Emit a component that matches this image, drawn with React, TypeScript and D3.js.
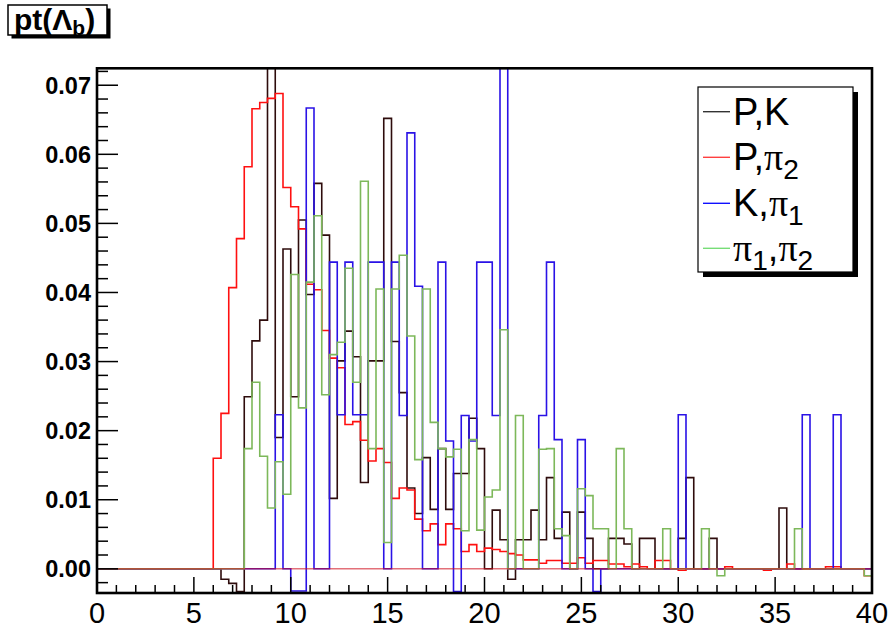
import React from 'react';
import * as d3 from 'd3';

// Histogram binning: 100 bins on [0, 40]
const BIN_LOW = 0;
const BIN_HIGH = 40;
const N_BINS = 100;

// Normalised pt distributions, one value per bin
const pK = [
  0, 0, 0, 0, 0, 0, 0, 0, 0, 0,
  0, 0, 0, 0, 0, 0, -0.0015, -0.0021, -0.0033, 0.0249,
  0.0330, 0.0360, 0.0800, 0.0190, 0.0463, 0.0249, 0.0505, 0.0397, 0.0558, 0.0483,
  0.0102, 0.0301, 0.0344, 0.0307, 0.0125, 0.0301, 0.0301, 0.0652, 0.0329, 0.0255,
  0.0117, 0.0080, 0.0161, 0.0086, 0.0174, 0.0086, 0.0138, 0.0138, 0.0218, 0.0174,
  0, 0.0085, 0.0042, -0.0015, 0.0042, 0.0042, 0.0085, 0.0042, 0.0132, 0.0044,
  0.0082, 0, 0.0082, 0.0044, 0, 0, 0.0044, 0.0044, 0.0036, 0,
  0.0044, 0.0044, 0, 0, 0, 0.0044, 0.0132, 0, 0, 0.0044,
  0, 0, 0, 0, 0, 0, 0, 0, 0.0088, 0,
  0, 0, 0, 0, 0, 0, 0, 0, 0, 0,
];

const pPi2 = [
  0, 0, 0, 0, 0, 0, 0, 0, 0, 0,
  0, 0, 0, 0, 0, 0.0160, 0.0225, 0.0407, 0.0478, 0.0582,
  0.0666, 0.0675, 0.0681, 0.0688, 0.0552, 0.0524, 0.0492, 0.0412, 0.0404, 0.0345,
  0.0305, 0.0291, 0.0209, 0.0213, 0.0186, 0.0156, 0.0174, 0.0154, 0.0102, 0.0117,
  0.0114, 0.0072, 0.0055, 0.0065, 0.0035, 0.0065, 0.0058, 0.0025, 0.0035, 0.0025,
  0.0030, 0.0028, 0.0025, 0.0022, 0.0020, 0.0013, 0.0013, 0.0008, 0.0012, 0.0012,
  0.0008, 0.0008, 0.0016, 0.0008, 0.0012, 0.0012, 0.0007, 0.0007, 0.0003, 0.0007,
  0.0003, 0, 0.0012, 0.0012, 0, -0.0002, 0, 0, 0, 0,
  0, 0.0003, 0, 0, 0, 0, -0.0002, 0, 0, 0.0007,
  0, 0, 0, 0, 0.0003, 0.0003, 0, 0, 0, -0.0010,
];

const kPi1 = [
  0, 0, 0, 0, 0, 0, 0, 0, 0, 0,
  0, 0, 0, 0, 0, 0, 0, 0, 0, 0,
  0, 0, 0, 0.0223, 0, -0.0032, -0.0032, 0.0667, 0, 0,
  0.0444, 0.0223, 0.0444, 0.0223, 0.0223, 0.0444, 0.0444, 0, 0.0444, 0.0222,
  0.0631, 0.0409, 0, 0, 0.0444, 0.0185, -0.0033, 0.0222, 0.0185, 0.0444,
  0.0444, 0.0222, 0.0800, 0, 0, 0, 0, 0.0222, 0.0444, 0.0187,
  0, 0, 0.0187, 0, -0.0033, 0, 0, 0, 0, 0,
  0, 0, 0, 0, 0, 0.0223, 0, 0, 0, 0,
  0, 0, 0, 0, 0, 0, 0, 0, 0, 0,
  0, 0.0223, 0, 0, 0, 0.0223, 0, 0, 0, 0,
];

const pi1Pi2 = [
  0, 0, 0, 0, 0, 0, 0, 0, 0, 0,
  0, 0, 0, 0, 0, 0, 0, 0, 0, 0.0174,
  0.0270, 0.0163, 0.0088, 0.0155, 0.0108, 0.0426, 0.0233, 0.0415, 0.0511, 0.0252,
  0.0310, 0.0328, 0.0435, 0.0270, 0.0561, 0.0174, 0.0405, 0.0038, 0.0405, 0.0454,
  0.0337, 0.0158, 0.0405, 0.0212, 0.0174, 0.0162, 0.0173, 0.0055, 0.0187, 0.0056,
  0.0104, 0.0114, 0.0346, 0, 0.0222, 0, 0, 0.0173, 0.0174, 0.0058,
  0.0048, 0, 0.0116, 0.0106, 0.0058, 0.0058, 0, 0.0174, 0.0058, 0,
  0, 0, 0, 0.0058, 0, 0, 0, 0, 0.0058, 0,
  -0.0010, 0, 0, 0, 0, 0, 0, 0, 0, 0,
  0.0058, 0, 0, 0, 0, 0, 0, 0, 0, -0.0010,
];

// Axis tick labels
const xTickLabels = ['0', '5', '10', '15', '20', '25', '30', '35', '40'];
const yTickLabels = ['0.00', '0.01', '0.02', '0.03', '0.04', '0.05', '0.06', '0.07'];

type Part = { t: string; greek?: boolean; sub?: boolean };
const series: { name: Part[]; values: number[]; color: string; legendColor: string }[] = [
  { name: [{ t: 'P,K' }], values: pK, color: '#2e0c0c', legendColor: '#333333' },
  { name: [{ t: 'P,' }, { t: 'π', greek: true }, { t: '2', sub: true }], values: pPi2, color: '#ff1010', legendColor: '#ff4040' },
  { name: [{ t: 'K,' }, { t: 'π', greek: true }, { t: '1', sub: true }], values: kPi1, color: '#2a12e6', legendColor: '#1010ff' },
  {
    name: [{ t: 'π', greek: true }, { t: '1', sub: true }, { t: ',' }, { t: 'π', greek: true }, { t: '2', sub: true }],
    values: pi1Pi2, color: '#7db85a', legendColor: '#77dd77',
  },
];

const W = 890;
const H = 630;
const FR = { left: 97, right: 872, top: 68.3, bottom: 593 };

const SANS = 'Liberation Sans, Arial, Helvetica, sans-serif';
const SERIF = 'Liberation Serif, Times New Roman, serif';

function LatexText({ parts, x, y, size }: { parts: Part[]; x: number; y: number; size: number }) {
  const subSize = size * 0.74;
  const subShift = size * 0.22;
  let shifted = false;
  const spans: React.ReactNode[] = [];
  parts.forEach((p, i) => {
    let dy = 0;
    if (p.sub && !shifted) { dy = subShift; shifted = true; }
    else if (!p.sub && shifted) { dy = -subShift; shifted = false; }
    spans.push(
      <tspan key={i} dy={dy || undefined} fontSize={p.sub ? subSize : size}
        fontFamily={p.greek ? SERIF : SANS}>{p.t}</tspan>
    );
  });
  return <text x={x} y={y} fill="#000">{spans}</text>;
}

export default function App() {
  const x = d3.scaleLinear().domain([BIN_LOW, BIN_HIGH]).range([FR.left, FR.right]);
  const y = d3.scaleLinear().domain([-0.0035, 0.07245]).range([FR.bottom, FR.top]);
  const edges = d3.range(N_BINS + 1).map((i) => BIN_LOW + (i * (BIN_HIGH - BIN_LOW)) / N_BINS);

  const stepLine = d3.line<[number, number]>()
    .x((d) => x(d[0]))
    .y((d) => y(d[1]))
    .curve(d3.curveStepAfter);

  const pathFor = (vals: number[]) => {
    const pts: [number, number][] = vals.map((v, i) => [edges[i], v]);
    pts.push([edges[N_BINS], vals[N_BINS - 1]]);
    return stepLine(pts) || '';
  };

  const xMajor = xTickLabels.map((l) => +l);
  const xMinor = d3.range(0, 41, 1).filter((v) => v % 5 !== 0);
  const yMajor = yTickLabels.map((l) => +l);
  const yMinor = d3.range(-1, 37).map((k) => k * 0.002).filter((v) => Math.abs(Math.round(v * 500) % 5) !== 0);

  const legend = { x: 698, y: 87, w: 155, h: 185, shadow: 5 };
  const rowY = [111.7, 157.3, 203.3, 248.3];

  return (
    <svg width={W} height={H} viewBox={`0 0 ${W} ${H}`}
      style={{ position: 'absolute', left: 0, top: 0, background: '#fff' }}>
      <defs>
        <clipPath id="frameClip">
          <rect x={FR.left} y={FR.top} width={FR.right - FR.left} height={FR.bottom - FR.top} />
        </clipPath>
      </defs>
      <rect x={0} y={0} width={W} height={H} fill="#fff" />

      {/* histograms */}
      <g clipPath="url(#frameClip)" fill="none" strokeWidth={1.6}>
        {series.map((s, i) => (
          <path key={i} d={pathFor(s.values)} stroke={s.color} />
        ))}
        <line x1={x(BIN_LOW)} x2={x(BIN_HIGH)} y1={y(0)} y2={y(0)} stroke="#d01020" strokeOpacity={0.6} strokeWidth={1.6} />
      </g>

      {/* frame */}
      <rect x={FR.left} y={FR.top} width={FR.right - FR.left} height={FR.bottom - FR.top}
        fill="none" stroke="#000" strokeWidth={2.6} />

      {/* axis ticks */}
      <g stroke="#000" strokeWidth={1.5}>
        {xMajor.map((v) => (
          <line key={'xM' + v} x1={x(v)} x2={x(v)} y1={FR.bottom} y2={FR.bottom - 16} />
        ))}
        {xMinor.map((v) => (
          <line key={'xm' + v} x1={x(v)} x2={x(v)} y1={FR.bottom} y2={FR.bottom - 8} />
        ))}
        {yMajor.map((v) => (
          <line key={'yM' + v} x1={FR.left} x2={FR.left + 21} y1={y(v)} y2={y(v)} />
        ))}
        {yMinor.map((v) => (
          <line key={'ym' + v} x1={FR.left} x2={FR.left + 11} y1={y(v)} y2={y(v)} />
        ))}
      </g>

      {/* tick labels */}
      {xTickLabels.map((l) => (
        <text key={'xl' + l} x={x(+l)} y={623} textAnchor="middle" fontFamily={SANS} fontSize={29} fill="#000">{l}</text>
      ))}
      {yTickLabels.map((l) => (
        <text key={'yl' + l} x={91} y={y(+l) + 8.5} textAnchor="end" fontFamily={SANS} fontWeight="bold" fontSize={23.5} fill="#000">{l}</text>
      ))}

      {/* legend */}
      <rect x={legend.x + legend.shadow} y={legend.y + legend.shadow} width={legend.w} height={legend.h} fill="#000" />
      <rect x={legend.x} y={legend.y} width={legend.w} height={legend.h} fill="#fff" stroke="#000" strokeWidth={1.2} />
      {series.map((s, i) => (
        <g key={'lg' + i}>
          <line x1={703} x2={730} y1={rowY[i]} y2={rowY[i]} stroke={s.legendColor} strokeWidth={1.4} />
          <LatexText parts={s.name} x={733} y={rowY[i] + 13} size={38} />
        </g>
      ))}

      {/* title box */}
      <rect x={11.5} y={8.5} width={99} height={30} fill="#000" />
      <rect x={8} y={5} width={99} height={30} fill="#fff" stroke="#000" strokeWidth={1.5} />
      <text x={14} y={30} fontFamily={SANS} fontWeight="bold" fontSize={30} fill="#000">
        pt(<tspan>Λ</tspan><tspan dy={5} fontSize={21}>b</tspan><tspan dy={-5}>)</tspan>
      </text>
    </svg>
  );
}
